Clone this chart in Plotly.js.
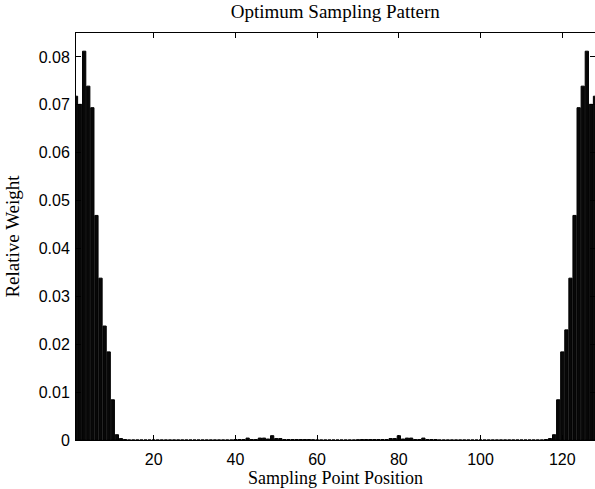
<!DOCTYPE html>
<html>
<head>
<meta charset="utf-8">
<script src="https://cdn.plot.ly/plotly-3.0.1.min.js"></script>
<style>html,body{margin:0;padding:0;background:#fff;}#chart{width:595px;height:489px;}</style>
</head>
<body>
<div id="chart"></div>
<script>
// Sampling point positions 1..128
var positions = [];
for (var i = 1; i <= 128; i++) positions.push(i);

// Relative weights
var weightsLeft = [0.0718, 0.0701, 0.0812, 0.0739, 0.0694, 0.0469, 0.0338, 0.0238, 0.0184, 0.0084, 0.0011, 0.0003, 0.0001];
var weightsGap1 = [0,0,0,0,0,0,0,0,0,0,0,0,0,0,0,0,0,0,0,0,0,0,0,0,0,0];
var weightsMidA = [0.0001, 0.0001, 0.0001, 0.0004, 0.0001, 0.0001, 0.0004, 0.0004, 0.0002, 0.0009, 0.0003, 0.0003, 0.0001, 0.0001, 0.0001, 0.0001, 0.0001, 0.0001, 0.0001, 0.00005, 0];
var weightsGap2 = [0,0,0,0,0,0,0,0];
var weightsMidB = [0, 0.00005, 0.0001, 0.0001, 0.0001, 0.0001, 0.0001, 0.0001, 0.0001, 0.0003, 0.0003, 0.0009, 0.0002, 0.0004, 0.0004, 0.0001, 0.0001, 0.0004, 0.0001, 0.0001, 0.0001];
var weightsGap3 = [0,0,0,0,0,0,0,0,0,0,0,0,0,0,0,0,0,0,0,0,0,0,0,0,0,0];
var weightsRight = [0.0001, 0.0003, 0.0011, 0.0084, 0.0184, 0.0230, 0.0338, 0.0469, 0.0694, 0.0739, 0.0812, 0.0701, 0.0718];

var weights = [].concat(weightsLeft, weightsGap1, weightsMidA, weightsGap2, weightsMidB, weightsGap3, weightsRight);

var xTicks = [20, 40, 60, 80, 100, 120];
var yTicks = [0, 0.01, 0.02, 0.03, 0.04, 0.05, 0.06, 0.07, 0.08];
var yTickText = ['0', '0.01', '0.02', '0.03', '0.04', '0.05', '0.06', '0.07', '0.08'];

var trace = {
  type: 'bar',
  x: positions,
  y: weights,
  marker: {color: '#080808', line: {color: '#000', width: 1}},
  hoverinfo: 'x+y'
};

var tickFont = {family: 'Liberation Sans, Arial, sans-serif', size: 16, color: '#000'};
var serif = {family: 'Liberation Serif, Times New Roman, serif', size: 19, color: '#000'};
var serifX = {family: 'Liberation Serif, Times New Roman, serif', size: 18, color: '#000'};

var layout = {
  width: 595,
  height: 489,
  margin: {l: 76, r: 0, t: 33, b: 49, pad: 0},
  paper_bgcolor: '#fff',
  plot_bgcolor: '#fff',
  showlegend: false,
  bargap: 0.2,
  title: {text: 'Optimum Sampling Pattern', font: serif, x: 0.5635, xanchor: 'center', y: 0.977, yanchor: 'middle'},
  xaxis: {
    range: [1, 128],
    tickvals: xTicks,
    ticktext: xTicks.map(String),
    ticks: 'inside', ticklen: 5, tickcolor: '#000', tickwidth: 1,
    showline: true, linecolor: '#000', linewidth: 1, mirror: 'allticks',
    showgrid: false, zeroline: false,
    tickfont: tickFont,
    ticklabelstandoff: 5,
    title: {text: 'Sampling Point Position', font: serifX, standoff: 3},
    automargin: false
  },
  yaxis: {
    range: [0, 0.085],
    tickvals: yTicks,
    ticktext: yTickText,
    ticks: 'inside', ticklen: 5, tickcolor: '#000', tickwidth: 1,
    showline: true, linecolor: '#000', linewidth: 1, mirror: 'allticks',
    showgrid: false, zeroline: false,
    tickfont: tickFont,
    ticklabelstandoff: 2,
    title: {text: 'Relative Weight', font: serif, standoff: 14},
    automargin: false
  }
};

Plotly.newPlot('chart', [trace], layout, {displayModeBar: false, staticPlot: true});
</script>
</body>
</html>
